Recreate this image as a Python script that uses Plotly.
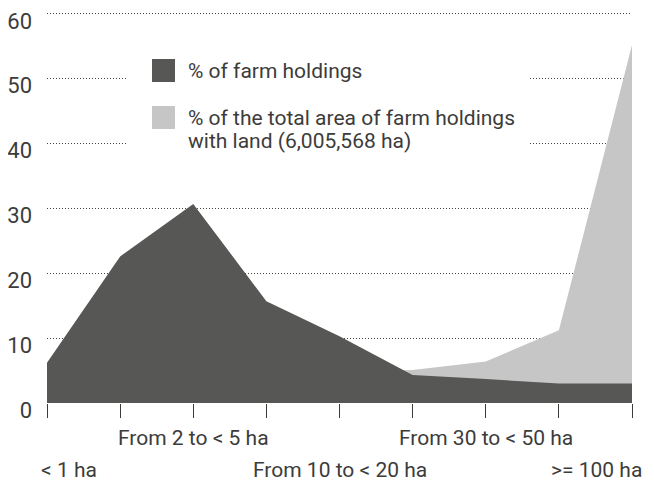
import plotly.graph_objects as go

categories = ["< 1 ha", "From 1 to < 2 ha", "From 2 to < 5 ha", "From 5 to < 10 ha",
              "From 10 to < 20 ha", "From 20 to < 30 ha", "From 30 to < 50 ha",
              "From 50 to < 100 ha", ">= 100 ha"]
pct_holdings = [6.2, 22.6, 30.7, 15.7, 10.3, 4.3, 3.7, 3.0, 3.0]
pct_area = [0.5, 1.5, 5.5, 5.5, 4.8, 5.1, 6.4, 11.2, 55.2]
y_ticks = [0, 10, 20, 30, 40, 50, 60]
shown_labels_row1 = ["From 2 to < 5 ha", "From 30 to < 50 ha"]
shown_labels_row2 = ["< 1 ha", "From 10 to < 20 ha", ">= 100 ha"]
legend_names = ["% of farm holdings", "% of the total area of farm holdings", "with land (6,005,568 ha)"]

DARK = "#575756"
LIGHT = "#c6c6c6"
TEXT = "#3c3c3b"
FONT = "Roboto"

OFF = 8  # page body margin
W, H = 654 - OFF, 484 - OFF
L, R, T, B = 47 - OFF, 654 - 632, 0, 81
pw, ph = W - L - R, H - T - B
YTOP = (402.7 - OFF) / 6.48


def px(x):
    return (x - OFF - L) / pw


def py(y):
    return (H - B - (y - OFF)) / ph


fig = go.Figure()
fig.add_trace(go.Scatter(x=categories, y=pct_area, mode="lines", fill="tozeroy",
                         line=dict(width=0, color=LIGHT), fillcolor=LIGHT,
                         name=legend_names[1], showlegend=False, hoverinfo="skip"))
fig.add_trace(go.Scatter(x=categories, y=pct_holdings, mode="lines", fill="tozeroy",
                         line=dict(width=0, color=DARK), fillcolor=DARK,
                         name=legend_names[0], showlegend=False, hoverinfo="skip"))

shapes = [
    dict(type="rect", xref="paper", yref="paper", x0=px(128), x1=px(528), y0=py(160), y1=py(48),
         fillcolor="white", line=dict(width=0), layer="above"),
    dict(type="rect", xref="paper", yref="paper", x0=px(152), x1=px(175), y0=py(82), y1=py(59),
         fillcolor=DARK, line=dict(width=0), layer="above"),
    dict(type="rect", xref="paper", yref="paper", x0=px(152), x1=px(175), y0=py(129), y1=py(106),
         fillcolor=LIGHT, line=dict(width=0), layer="above"),
]

annotations = []
for t, yy in zip(legend_names, [71, 118, 141]):
    annotations.append(dict(text=t, xref="paper", yref="paper", x=px(186), y=py(yy),
                            xanchor="left", yanchor="middle", showarrow=False,
                            font=dict(family=FONT, size=21, color=TEXT)))
for lab in shown_labels_row1:
    annotations.append(dict(text=lab, x=lab, xref="x", yref="paper", y=py(438),
                            xanchor="center", yanchor="middle", showarrow=False,
                            font=dict(family=FONT, size=21, color=TEXT)))
for lab in shown_labels_row2:
    anchor = "center"
    shift = 0
    if lab == categories[0]:
        anchor, shift = "left", -8
    elif lab == categories[-1]:
        anchor, shift = "right", 12
    annotations.append(dict(text=lab, x=lab, xref="x", yref="paper", y=py(470),
                            xanchor=anchor, xshift=shift, yanchor="middle", showarrow=False,
                            font=dict(family=FONT, size=21, color=TEXT)))

fig.update_layout(
    width=W, height=H,
    margin=dict(l=L, r=R, t=T, b=B, autoexpand=False),
    paper_bgcolor="white", plot_bgcolor="white",
    showlegend=False,
    shapes=shapes, annotations=annotations,
    font=dict(family=FONT, size=21, color=TEXT),
    xaxis=dict(type="category", range=[0, 8], showgrid=False, zeroline=False, automargin=False,
               showline=False, ticks="outside", ticklen=14, tickwidth=1, tickcolor="#3c3c3b",
               showticklabels=False, fixedrange=True),
    yaxis=dict(range=[0, YTOP], tickvals=y_ticks, showgrid=True, gridcolor="#444444",
               griddash="1px,2px", gridwidth=1, zeroline=False, showline=False, ticks="",
               automargin=False, ticklabelstandoff=14, ticklabelshift=7,
               tickfont=dict(family=FONT, size=22, color=TEXT), fixedrange=True),
)

fig.write_html("out.html", config={"displayModeBar": False})
